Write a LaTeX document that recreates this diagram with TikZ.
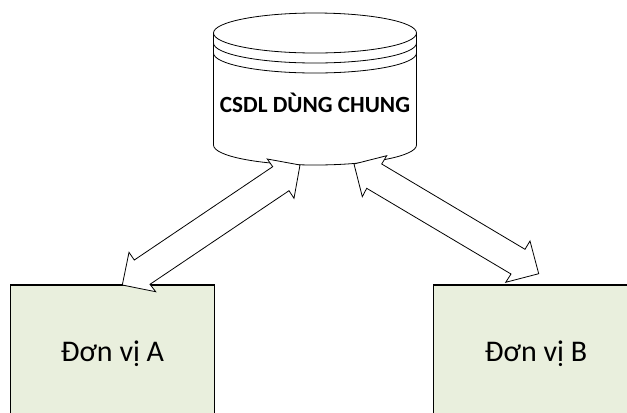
\documentclass[tikz,border=0pt]{standalone}
\usepackage{fontspec}
\setmainfont{Carlito}
\definecolor{boxfill}{HTML}{E9EFDD}
\tikzset{
  edge/.style={draw=black,line width=0.6pt,line join=miter},
  unitbox/.style={draw=black,line width=0.9pt,fill=boxfill},
  lbl/.style={inner sep=0pt,font=\fontsize{22.5}{26}\selectfont},
}
\begin{document}
\begin{tikzpicture}[x=0.75pt,y=-0.75pt]
\useasboundingbox (0,0) rectangle (627,412);
\fill[white] (0,0) rectangle (627,412);
% cylinder
\path[edge,fill=white] (213.5,33) arc[start angle=180,end angle=360,x radius=101.5,y radius=20]
  -- (416.5,145) arc[start angle=0,end angle=180,x radius=101.5,y radius=20] -- cycle;
\draw[edge] (213.5,33) arc[start angle=180,end angle=0,x radius=101.5,y radius=20];
\draw[edge] (213.5,43) arc[start angle=180,end angle=0,x radius=101.5,y radius=20];
\draw[edge] (213.5,53) arc[start angle=180,end angle=0,x radius=101.5,y radius=20];
\node[inner sep=0pt,font=\fontsize{17.4}{20}\selectfont\bfseries] (db) at (315,103) {CSDL DÙNG CHUNG};
% boxes
\path[unitbox] (10.5,413) -- (10.5,285) -- (214.5,285) -- (214.5,413);
\path[unitbox] (433.5,413) -- (433.5,285) -- (640,285) -- (640,413);
\node[lbl] (a) at (112.5,353.5) {Đơn vị A};
\node[lbl] (b) at (536,353.5) {Đơn vị B};
% arrows
\path[edge,fill=white] (300,165) -- (267.3,159) -- (272.7,166.7) -- (134.3,260) -- (129,252.3) -- (122.3,285)
  -- (155.7,291.7) -- (150,284.3) -- (289,190.7) -- (294,198.3) -- cycle;
\path[edge,fill=white] (354,164) -- (386.7,155.7) -- (381.7,164) -- (525,249.3) -- (530,241) -- (538.7,273.7)
  -- (505.7,282.3) -- (511,274) -- (366.7,188.3) -- (362.3,196.7) -- cycle;
\end{tikzpicture}
\end{document}
